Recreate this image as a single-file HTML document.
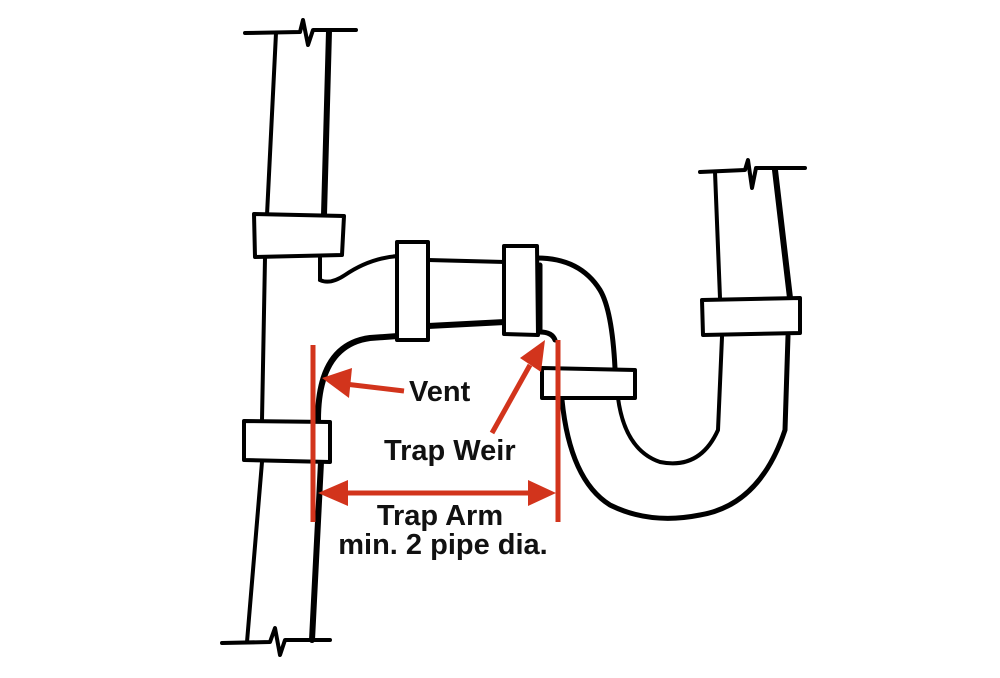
<!DOCTYPE html>
<html><head><style>
html,body{margin:0;padding:0;background:#fff;}
svg{display:block;}
text{font-family:"Liberation Sans",Arial,sans-serif;font-weight:bold;fill:#111;}
</style></head><body>
<svg width="1000" height="678" viewBox="0 0 1000 678" xmlns="http://www.w3.org/2000/svg">
<g fill="none" stroke="#000" stroke-width="4" stroke-linecap="round" stroke-linejoin="round">
<path d="M245 33 L300 32 L303 20 L308 45 L313 30 L356 30"/>
<path d="M276 33 L267 215"/>
<path d="M329 31 L324 215" stroke-width="6"/>
<path d="M254 214 L344 216 L342 255 L255 257 Z" fill="#fff"/>
<path d="M265 258 L262 420"/>
<path d="M262 462 L247 642"/>
<path d="M320 258 L320 280"/>
<path d="M321 462 L312 640" stroke-width="6"/>
<path d="M222 643 L270 642 L275 628 L280 655 L285 640 L330 640"/>
<path d="M244 421 L330 422 L330 462 L244 460 Z" fill="#fff"/>
<path d="M320 280 Q330 285 345 275 Q370 258 398 256"/>
<path d="M428 260 L505 262" />
<path d="M428 326 L505 322" stroke-width="6"/>
<path d="M537 258 Q580 258 600 290 Q612 310 615 368" stroke-width="5"/>
<path d="M540 265 L540 332 Q552 332 555 340" stroke-width="5"/>
<path d="M318 420 Q318 345 370 338 L398 336" stroke-width="6"/>
<path d="M397 242 L428 242 L428 340 L397 340 Z" fill="#fff"/>
<path d="M504 246 L537 246 L538 335 L504 334 Z" fill="#fff"/>
<path d="M542 368 L635 370 L635 398 L542 398 Z" fill="#fff"/>
<path d="M562 400 Q570 480 610 505 Q650 525 700 515 Q760 505 785 430 L788 336" stroke-width="5"/>
<path d="M618 398 Q625 450 660 462 Q700 470 718 430 L722 337" stroke-width="4"/>
<path d="M700 172 L745 170 L748 160 L752 188 L756 168 L805 168"/>
<path d="M715 172 L720 298"/>
<path d="M775 170 L790 298" stroke-width="6"/>
<path d="M702 300 L800 298 L800 333 L703 335 Z" fill="#fff"/>
</g>
<g stroke="#d2341c" fill="#d2341c" stroke-width="5">
<line x1="313" y1="345" x2="313" y2="522"/>
<line x1="558" y1="340" x2="558" y2="522"/>
<line x1="340" y1="493" x2="532" y2="493"/>
<polygon points="318,493 348,480 348,506" stroke="none"/>
<polygon points="556,493 528,480 528,506" stroke="none"/>
<line x1="404" y1="391" x2="345" y2="384"/>
<polygon points="322,378 352,368 349,398" stroke="none"/>
<line x1="492" y1="433" x2="530" y2="365"/>
<polygon points="545,340 520,358 541,372" stroke="none"/>
</g>
<text x="409" y="401" font-size="29">Vent</text>
<text x="384" y="460" font-size="29">Trap Weir</text>
<text x="440" y="525" font-size="29" text-anchor="middle">Trap Arm</text>
<text x="443" y="554" font-size="29" text-anchor="middle">min. 2 pipe dia.</text>
</svg>
</body></html>
